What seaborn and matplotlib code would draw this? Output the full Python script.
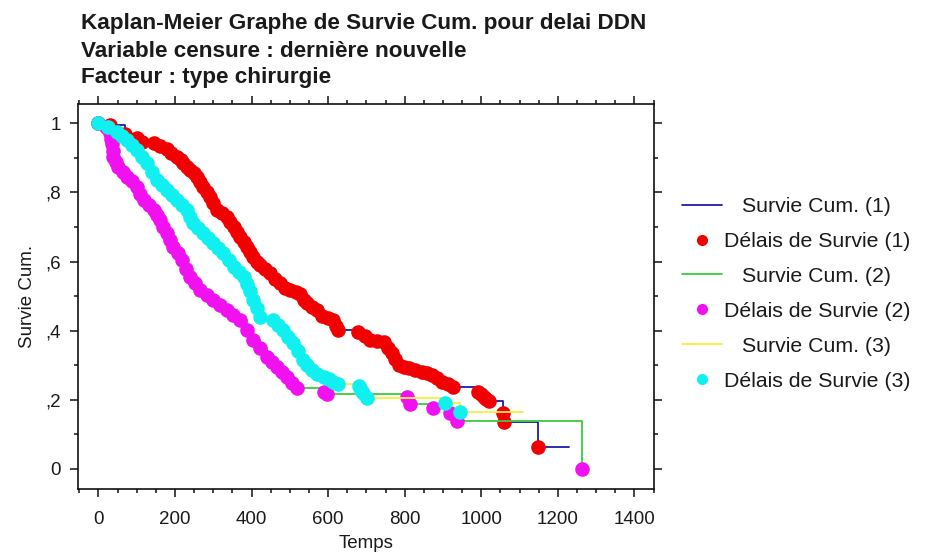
import numpy as np
import pandas as pd
import matplotlib
matplotlib.use("Agg")
import matplotlib.pyplot as plt
import seaborn as sns
from matplotlib.lines import Line2D
from matplotlib.ticker import FixedLocator, FixedFormatter, MultipleLocator

# ---------------- data ----------------
title_lines = ["Kaplan-Meier Graphe de Survie Cum. pour delai DDN",
               "Variable censure : dernière nouvelle",
               "Facteur : type chirurgie"]
x_label = "Temps"
y_label = "Survie Cum."
x_ticks = [0, 200, 400, 600, 800, 1000, 1200, 1400]
x_tick_labels = ["0", "200", "400", "600", "800", "1000", "1200", "1400"]
y_ticks = [0, 0.2, 0.4, 0.6, 0.8, 1.0]
y_tick_labels = ["0", ",2", ",4", ",6", ",8", "1"]

line_labels = ["Survie Cum. (1)", "Survie Cum. (2)", "Survie Cum. (3)"]
dot_labels = ["Délais de Survie (1)", "Délais de Survie (2)", "Délais de Survie (3)"]

time_1 = [0, 30, 70, 100, 115, 144, 161, 178, 190, 205, 215, 222, 232, 240, 250,
          257, 266, 274, 283, 292, 300, 309, 322, 335, 344, 353, 362, 370, 380, 388,
          397, 405, 414, 422, 435, 448, 461, 475, 488, 501, 515, 527, 536, 544, 557,
          570, 583, 600, 614, 621, 627, 679, 695, 710, 728, 745, 756, 766, 775, 784,
          797, 810, 828, 845, 858, 871, 884, 897, 912, 927, 992, 1000, 1006, 1013, 1019,
          1057, 1058, 1149]
surv_1 = [1.0, 0.995, 0.97, 0.957, 0.947, 0.942, 0.935, 0.925, 0.915, 0.903, 0.893, 0.884, 0.873, 0.865, 0.855,
          0.846, 0.83, 0.817, 0.802, 0.788, 0.77, 0.749, 0.74, 0.73, 0.715, 0.701, 0.686, 0.672, 0.657, 0.643,
          0.628, 0.614, 0.6, 0.59, 0.578, 0.566, 0.551, 0.537, 0.525, 0.518, 0.512, 0.505, 0.49, 0.479, 0.47,
          0.46, 0.443, 0.437, 0.431, 0.415, 0.402, 0.397, 0.385, 0.373, 0.37, 0.366, 0.35, 0.335, 0.318, 0.301,
          0.296, 0.291, 0.286, 0.281, 0.277, 0.272, 0.262, 0.253, 0.245, 0.238, 0.224, 0.216, 0.209, 0.202, 0.197,
          0.162, 0.136, 0.064]
end_1 = 1228

time_2 = [0, 20, 30, 33, 35, 37, 39, 45, 52, 63, 74, 87, 100, 109, 118, 131, 144,
          152, 161, 170, 179, 187, 196, 207, 218, 229, 240, 253, 266, 283, 300, 318,
          335, 352, 370, 388, 405, 422, 440, 453, 466, 479, 492, 505, 518, 588, 597,
          805, 814, 875, 919, 936, 1263]
surv_2 = [1.0, 0.99, 0.971, 0.955, 0.94, 0.92, 0.903, 0.888, 0.874, 0.86, 0.846, 0.832, 0.817, 0.797, 0.778, 0.763, 0.749,
          0.735, 0.72, 0.7, 0.682, 0.662, 0.643, 0.624, 0.605, 0.58, 0.556, 0.537, 0.518, 0.503, 0.489, 0.475,
          0.46, 0.446, 0.431, 0.402, 0.373, 0.35, 0.325, 0.31, 0.296, 0.281, 0.267, 0.25, 0.233, 0.224, 0.216,
          0.209, 0.187, 0.176, 0.161, 0.14, 0.0]
end_2 = 1263

time_3 = [0, 25, 48, 61, 74, 87, 100, 113, 126, 140, 153, 166, 179, 192, 205,
          218, 231, 240, 248, 261, 274, 287, 300, 313, 326, 340, 353, 366, 379, 388,
          396, 405, 414, 422, 457, 470, 483, 496, 509, 522, 535, 546, 557, 572, 588,
          601, 614, 627, 680, 686, 692, 701, 906, 945]
surv_3 = [1.0, 0.99, 0.976, 0.964, 0.952, 0.938, 0.923, 0.904, 0.884, 0.86, 0.836, 0.822, 0.807, 0.792, 0.778,
          0.763, 0.749, 0.73, 0.711, 0.696, 0.682, 0.667, 0.653, 0.638, 0.624, 0.605, 0.585, 0.57, 0.556, 0.535,
          0.515, 0.49, 0.465, 0.44, 0.431, 0.417, 0.402, 0.383, 0.364, 0.34, 0.315, 0.3, 0.286, 0.276, 0.267,
          0.26, 0.253, 0.245, 0.24, 0.23, 0.219, 0.205, 0.19, 0.164]
end_3 = 1110

# ---------------- style ----------------
line_colors = ["#1c1ca8", "#3ccc3c", "#f2f23a"]
dot_colors = ["#f00000", "#f010f0", "#10f0f0"]

sns.set_style("white")
plt.rcParams["font.family"] = ["Liberation Sans", "DejaVu Sans"]
text_color = "#1a1a1a"

fig = plt.figure(figsize=(9.29, 5.56), dpi=100)
ax = fig.add_axes([77.7 / 929, 1 - 488.7 / 556, (654 - 77.7) / 929, (488.7 - 104) / 556])

series = [(time_1, surv_1, end_1), (time_2, surv_2, end_2), (time_3, surv_3, end_3)]
for i, (t, s, end) in enumerate(series):
    line_df = pd.DataFrame({"t": list(t) + [end], "s": list(s) + [s[-1]]})
    sns.lineplot(data=line_df, x="t", y="s", ax=ax, color=line_colors[i], lw=1.3,
                 drawstyle="steps-post", estimator=None, sort=False, legend=False, zorder=2 + 2 * i)
    dot_df = pd.DataFrame({"t": t, "s": s})
    sns.scatterplot(data=dot_df, x="t", y="s", ax=ax, color=dot_colors[i], s=110,
                    linewidth=0, marker="o", legend=False, zorder=3 + 2 * i)

ax.set_xlim(-54, 1451)
ax.set_ylim(-0.057, 1.056)
ax.xaxis.set_major_locator(FixedLocator(x_ticks))
ax.xaxis.set_major_formatter(FixedFormatter(x_tick_labels))
ax.xaxis.set_minor_locator(MultipleLocator(50))
ax.yaxis.set_major_locator(FixedLocator(y_ticks))
ax.yaxis.set_major_formatter(FixedFormatter(y_tick_labels))
ax.yaxis.set_minor_locator(MultipleLocator(0.1))

for sp in ax.spines.values():
    sp.set_visible(True)
    sp.set_color("#111111")
    sp.set_linewidth(1.2)

ax.tick_params(which="both", direction="out", top=True, right=True, bottom=True, left=True,
               colors="#111111", width=1.1, labelcolor=text_color, labelsize=13.5)
ax.tick_params(which="major", length=6)
ax.tick_params(which="minor", length=3)
ax.tick_params(axis="x", which="major", pad=10)
ax.tick_params(axis="y", which="major", pad=6)

ax.set_xlabel(x_label, fontsize=13.5, color=text_color, labelpad=5)
ax.set_ylabel(y_label, fontsize=13.5, color=text_color, labelpad=7)

title_baselines = [29.3, 56.7, 83.3]
for line, yb in zip(title_lines, title_baselines):
    fig.text(81 / 929, 1 - yb / 556, line, fontsize=16.2, fontweight="bold",
             color=text_color, ha="left", va="baseline")

handles, labels = [], []
for i in range(3):
    handles.append(Line2D([], [], color=line_colors[i], lw=1.3))
    labels.append(line_labels[i])
    handles.append(Line2D([], [], color=dot_colors[i], marker="o", linestyle="none", markersize=8, markeredgewidth=0))
    labels.append(dot_labels[i])

leg = fig.legend(handles=handles, labels=labels, loc="upper left",
                 bbox_to_anchor=(682 / 929, 1 - 197 / 556), frameon=False, fontsize=15.3,
                 handlelength=1.9, handletextpad=0.1, labelspacing=0.75,
                 borderpad=0, borderaxespad=0)
for t in leg.get_texts():
    t.set_color(text_color)
rows = leg._legend_handle_box.get_children()[0].get_children()
for i, hp in enumerate(rows):
    if i % 2 == 0:
        hp.sep = 14.0

fig.savefig("out.png", dpi=100, facecolor="white")
